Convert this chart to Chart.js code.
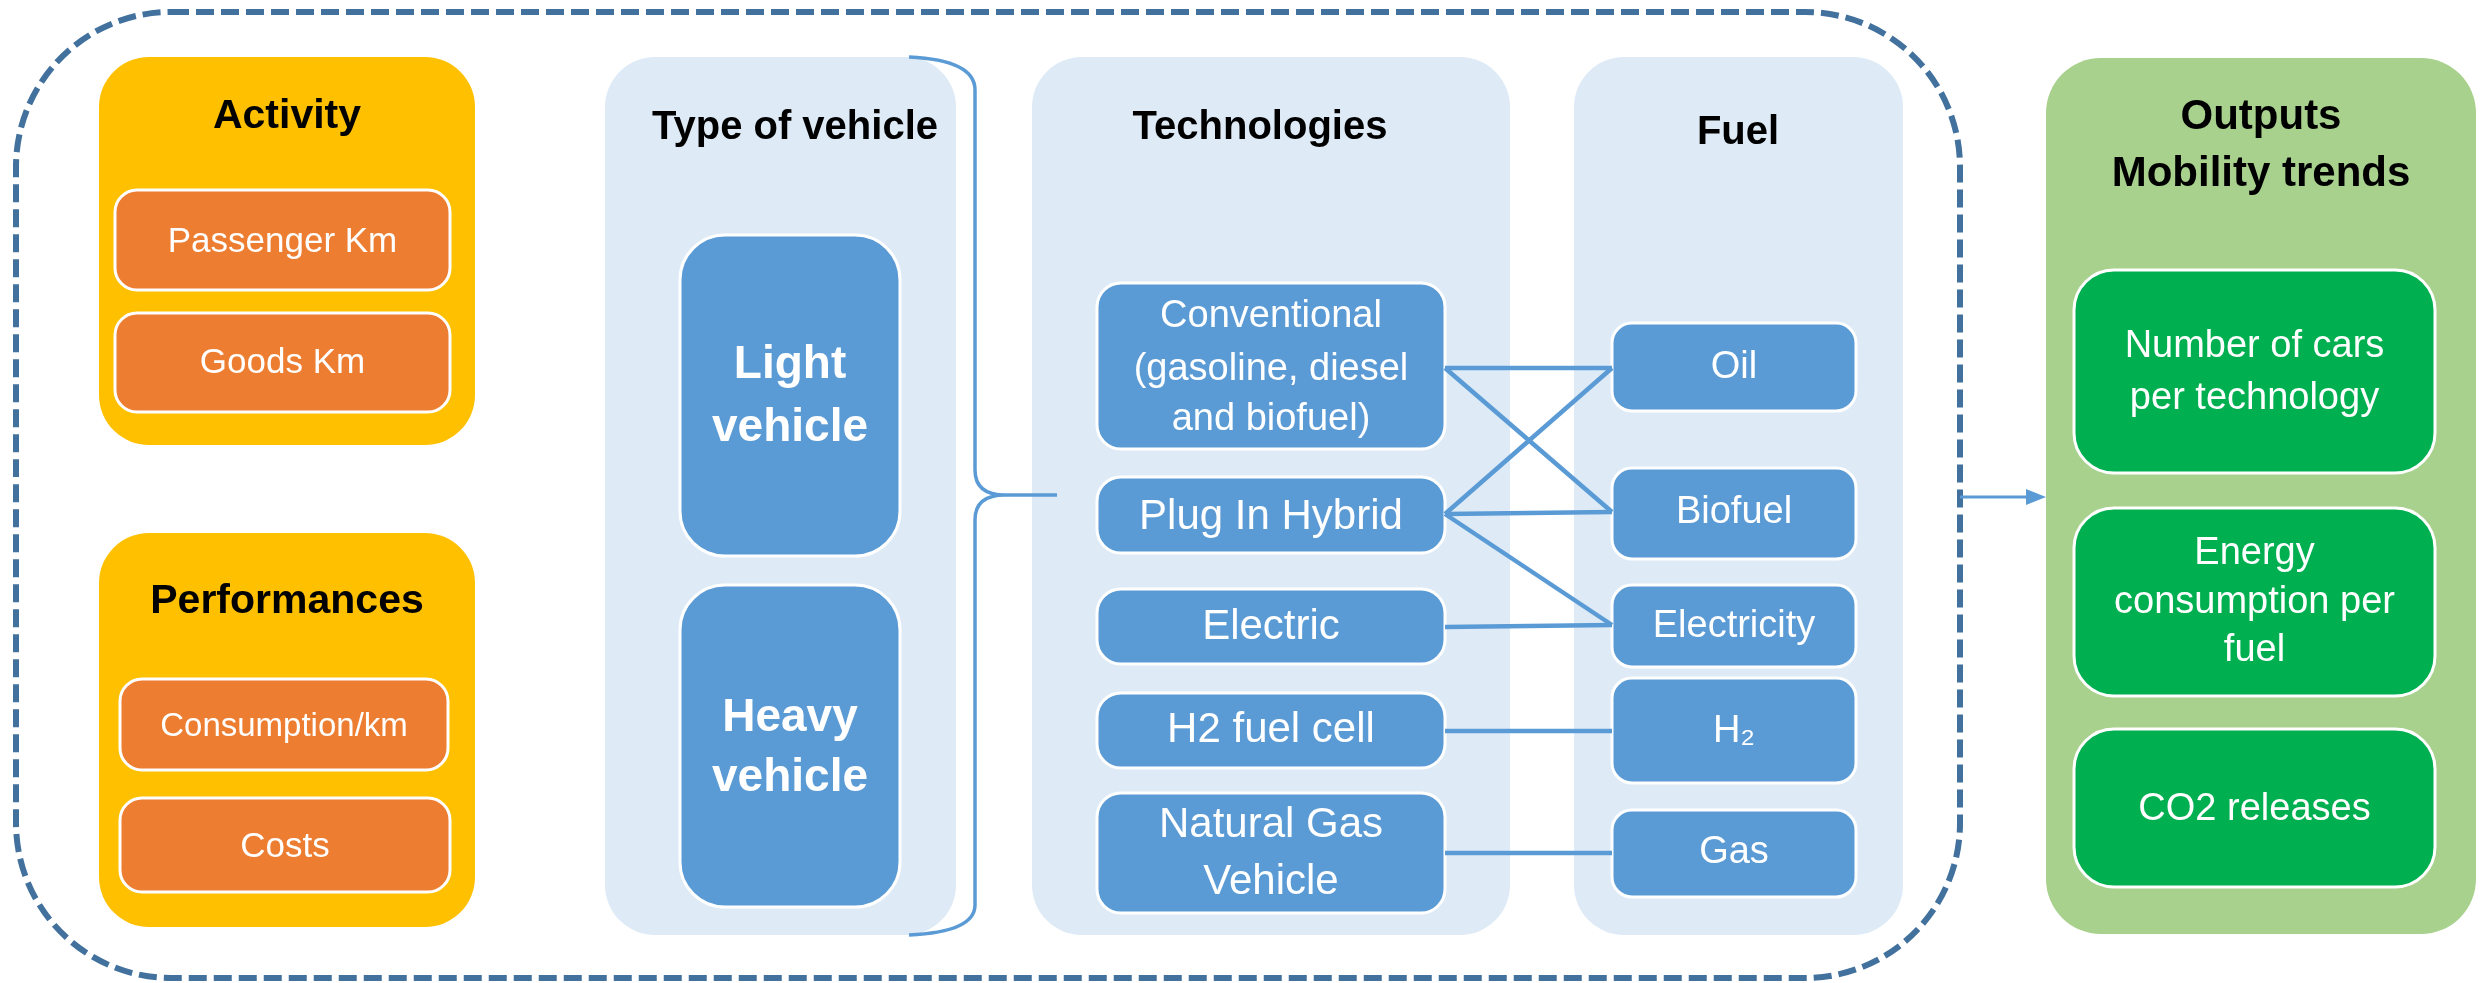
<!DOCTYPE html>
<html>
<head>
<meta charset="utf-8">
<script src="https://cdn.jsdelivr.net/npm/chart.js@4.4.1/dist/chart.umd.min.js"></script>
<style>
  html, body { margin: 0; padding: 0; background: #fff; }
  #wrap { width: 2481px; height: 983px; position: relative; }
</style>
</head>
<body>
<div id="wrap"><canvas id="myChart"></canvas></div>
<script>
'use strict';

// --- content of the diagram ---
var inputTitles = ['Activity', 'Performances'];
var activityItems = ['Passenger Km', 'Goods Km'];
var performanceItems = ['Consumption/km', 'Costs'];
var panelTitles = ['Type of vehicle', 'Technologies', 'Fuel'];
var vehicleTypes = [['Light', 'vehicle'], ['Heavy', 'vehicle']];
var technologies = [['Conventional', '(gasoline, diesel', 'and biofuel)'], ['Plug In Hybrid'], ['Electric'], ['H2 fuel cell'], ['Natural Gas', 'Vehicle']];
var fuels = ['Oil', 'Biofuel', 'Electricity', 'H\u2082', 'Gas'];
// technology index -> fuel index
var links = [[0, 0], [0, 1], [1, 0], [1, 1], [1, 2], [2, 2], [3, 3], [4, 4]];
var outputTitle = ['Outputs', 'Mobility trends'];
var outputs = [['Number of cars', 'per technology'], ['Energy', 'consumption per', 'fuel'], ['CO2 releases']];

// --- geometry (in scale units, x 0..2481, y 0..983 top-down) ---
var layout = {
  frame: { x0: 16, y0: 12, x1: 1960, y1: 978, r: 155 },
  inputBoxes: [{ x0: 99, y0: 57, x1: 475, y1: 445, titleY: 117 }, { x0: 99, y0: 533, x1: 475, y1: 927, titleY: 602 }],
  activityRects: [[115, 190, 450, 290, 242], [115, 313, 450, 412, 363]],
  performanceRects: [[120, 679, 448, 770, 727], [120, 798, 450, 892, 847]],
  panels: [{ x0: 605, x1: 956, cx: 795, titleY: 128 }, { x0: 1032, x1: 1510, cx: 1260, titleY: 128 }, { x0: 1574, x1: 1903, cx: 1738, titleY: 133 }],
  panelY: [57, 935],
  vehicleRects: [[680, 235, 900, 556, [365, 428]], [680, 585, 900, 907, [718, 778]]],
  techX: [1097, 1445],
  techRects: [[283, 449, [317, 370, 420]], [477, 553, [517]], [589, 664, [627]], [693, 768, [730]], [793, 913, [825, 882]]],
  techFonts: [38, 42, 42, 42, 42],
  techAnchor: [368, 514, 627, 731, 853],
  fuelX: [1612, 1856],
  fuelRects: [[323, 411, 368], [468, 559, 513], [585, 667, 627], [678, 783, 732], [810, 897, 853]],
  fuelAnchor: [368, 512, 625, 731, 853],
  outBox: { x0: 2046, y0: 58, x1: 2476, y1: 934, titleY: [117, 174] },
  outX: [2074, 2435],
  outRects: [[270, 473, [347, 399]], [508, 696, [554, 603, 651]], [729, 887, [810]]],
  arrow: { x0: 1960, x1: 2046, y: 497 }
};

var BLUE = '#5B9BD5';
var calibri = '"Liberation Sans", Arial, sans-serif';

// connector lines become line datasets
var linkSets = links.map(function (l) {
  return {
    data: [
      { x: layout.techX[1], y: layout.techAnchor[l[0]] },
      { x: layout.fuelX[0], y: layout.fuelAnchor[l[1]] }
    ],
    showLine: true,
    borderColor: BLUE,
    borderWidth: 4.5,
    pointRadius: 0,
    borderCapStyle: 'butt'
  };
});
linkSets.push({
  data: [{ x: layout.arrow.x0, y: layout.arrow.y }, { x: layout.arrow.x1 - 14, y: layout.arrow.y }],
  showLine: true,
  borderColor: BLUE,
  borderWidth: 3,
  pointRadius: 0
});

function rrect(ctx, sx, sy, x0, y0, x1, y1, r, fill, stroke, lw) {
  var a = sx.getPixelForValue(x0), b = sy.getPixelForValue(y0);
  var c = sx.getPixelForValue(x1), d = sy.getPixelForValue(y1);
  ctx.beginPath();
  ctx.roundRect(a, b, c - a, d - b, r);
  if (fill) { ctx.fillStyle = fill; ctx.fill(); }
  if (stroke) { ctx.strokeStyle = stroke; ctx.lineWidth = lw || 3; ctx.stroke(); }
}

function text(ctx, sx, sy, str, cx, cy, font, color) {
  ctx.font = font;
  ctx.fillStyle = color;
  ctx.textAlign = 'center';
  ctx.textBaseline = 'middle';
  ctx.fillText(str, sx.getPixelForValue(cx), sy.getPixelForValue(cy));
}

var diagram = {
  id: 'diagram',
  beforeDatasetsDraw: function (chart) {
    var ctx = chart.ctx, sx = chart.scales.x, sy = chart.scales.y;
    var L = layout;
    ctx.save();

    // dashed frame
    ctx.setLineDash([18, 7]);
    rrect(ctx, sx, sy, L.frame.x0, L.frame.y0, L.frame.x1, L.frame.y1, L.frame.r, null, '#41719C', 6);
    ctx.setLineDash([]);

    // input groups
    var items = [activityItems, performanceItems];
    var rects = [L.activityRects, L.performanceRects];
    L.inputBoxes.forEach(function (bx, i) {
      rrect(ctx, sx, sy, bx.x0, bx.y0, bx.x1, bx.y1, 50, '#FFC000');
      text(ctx, sx, sy, inputTitles[i], (bx.x0 + bx.x1) / 2, bx.titleY, 'bold 41px ' + calibri, '#000');
      rects[i].forEach(function (r, j) {
        rrect(ctx, sx, sy, r[0], r[1], r[2], r[3], 22, '#ED7D31', '#fff', 3);
        var fs = items[i][j] === 'Consumption/km' ? 33 : 35;
        text(ctx, sx, sy, items[i][j], (r[0] + r[2]) / 2, r[4], fs + 'px ' + calibri, '#fff');
      });
    });

    // light panels
    L.panels.forEach(function (p, i) {
      rrect(ctx, sx, sy, p.x0, L.panelY[0], p.x1, L.panelY[1], 50, '#DEEBF7');
      text(ctx, sx, sy, panelTitles[i], p.cx, p.titleY, 'bold 40px ' + calibri, '#000');
    });

    // vehicle types
    L.vehicleRects.forEach(function (r, i) {
      rrect(ctx, sx, sy, r[0], r[1], r[2], r[3], 45, BLUE, '#fff', 3);
      vehicleTypes[i].forEach(function (line, k) {
        text(ctx, sx, sy, line, (r[0] + r[2]) / 2, r[4][k], 'bold 46px ' + calibri, '#fff');
      });
    });

    // technologies
    L.techRects.forEach(function (r, i) {
      rrect(ctx, sx, sy, L.techX[0], r[0], L.techX[1], r[1], 24, BLUE, '#fff', 3);
      technologies[i].forEach(function (line, k) {
        text(ctx, sx, sy, line, (L.techX[0] + L.techX[1]) / 2, r[2][k], L.techFonts[i] + 'px ' + calibri, '#fff');
      });
    });

    // fuels
    L.fuelRects.forEach(function (r, i) {
      rrect(ctx, sx, sy, L.fuelX[0], r[0], L.fuelX[1], r[1], 20, BLUE, '#fff', 3);
      text(ctx, sx, sy, fuels[i], (L.fuelX[0] + L.fuelX[1]) / 2, r[2], '38px ' + calibri, '#fff');
    });

    // curly brace
    var px = function (v) { return sx.getPixelForValue(v); };
    var py = function (v) { return sy.getPixelForValue(v); };
    ctx.strokeStyle = BLUE;
    ctx.lineWidth = 3.5;
    ctx.beginPath();
    ctx.moveTo(px(909), py(57));
    ctx.quadraticCurveTo(px(975), py(60), px(975), py(90));
    ctx.lineTo(px(975), py(470));
    ctx.quadraticCurveTo(px(975), py(495), px(1005), py(495));
    ctx.lineTo(px(1057), py(495));
    ctx.moveTo(px(1005), py(495));
    ctx.quadraticCurveTo(px(975), py(495), px(975), py(520));
    ctx.lineTo(px(975), py(905));
    ctx.quadraticCurveTo(px(975), py(932), px(909), py(935));
    ctx.stroke();

    // outputs
    var ob = L.outBox;
    rrect(ctx, sx, sy, ob.x0, ob.y0, ob.x1, ob.y1, 55, '#A9D18E');
    outputTitle.forEach(function (line, k) {
      text(ctx, sx, sy, line, 2261, ob.titleY[k], 'bold 42px ' + calibri, '#000');
    });
    L.outRects.forEach(function (r, i) {
      rrect(ctx, sx, sy, L.outX[0], r[0], L.outX[1], r[1], 40, '#00B050', '#fff', 3);
      outputs[i].forEach(function (line, k) {
        text(ctx, sx, sy, line, (L.outX[0] + L.outX[1]) / 2, r[2][k], '38px ' + calibri, '#fff');
      });
    });

    ctx.restore();
  },
  afterDatasetsDraw: function (chart) {
    // arrow head
    var ctx = chart.ctx, sx = chart.scales.x, sy = chart.scales.y;
    var a = layout.arrow;
    var tip = sx.getPixelForValue(a.x1), yy = sy.getPixelForValue(a.y);
    ctx.save();
    ctx.fillStyle = BLUE;
    ctx.beginPath();
    ctx.moveTo(tip, yy);
    ctx.lineTo(tip - 20, yy - 8);
    ctx.lineTo(tip - 20, yy + 8);
    ctx.closePath();
    ctx.fill();
    ctx.restore();
  }
};

var ctx = document.getElementById('myChart').getContext('2d');

var chart = new Chart(ctx, {
  type: 'scatter',
  data: { datasets: linkSets },
  options: {
    responsive: true,
    maintainAspectRatio: false,
    animation: false,
    layout: { padding: 0 },
    plugins: { legend: { display: false }, tooltip: { enabled: false } },
    events: [],
    scales: {
      x: { type: 'linear', min: 0, max: 2481, display: false },
      y: { type: 'linear', min: 0, max: 983, reverse: true, display: false }
    }
  },
  plugins: [diagram]
});
</script>
</body>
</html>
